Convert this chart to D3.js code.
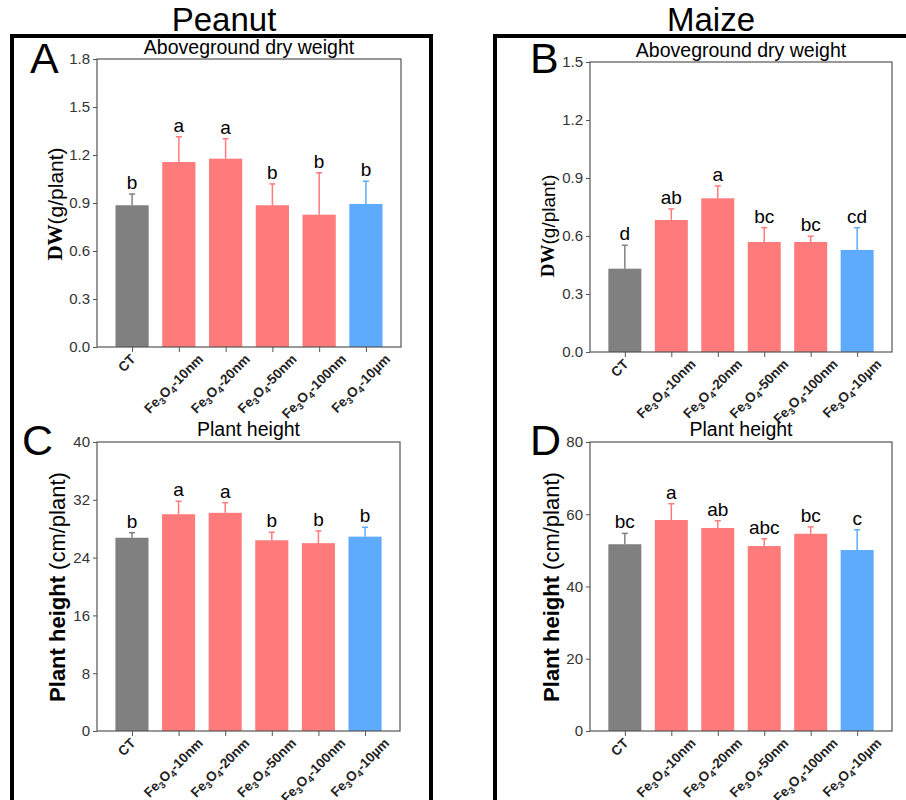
<!DOCTYPE html>
<html>
<head>
<meta charset="utf-8">
<script src="https://cdn.jsdelivr.net/npm/d3@7"></script>
<style>
  body { margin: 0; background: #fff; }
  svg { display: block; font-family: "Liberation Sans", Arial, sans-serif; }
</style>
</head>
<body>
<svg id="chart" width="906" height="800"></svg>
<script>
// treatments, same order in every panel
const categories = ["CT", "Fe3O4-10nm", "Fe3O4-20nm", "Fe3O4-50nm", "Fe3O4-100nm", "Fe3O4-10µm"];
const barColors = ["#808080", "#ff7b7b", "#ff7b7b", "#ff7b7b", "#ff7b7b", "#5eabfd"];

// A - peanut dry weight
const peanutDW = [0.886, 1.156, 1.177, 0.886, 0.827, 0.894];
const peanutDWErr = [0.07, 0.158, 0.125, 0.133, 0.262, 0.142];
const peanutDWLetters = ["b", "a", "a", "b", "b", "b"];

// B - maize dry weight
const maizeDW = [0.431, 0.683, 0.795, 0.569, 0.569, 0.528];
const maizeDWErr = [0.121, 0.057, 0.064, 0.074, 0.030, 0.115];
const maizeDWLetters = ["d", "ab", "a", "bc", "bc", "cd"];

// C - peanut plant height
const peanutHeight = [26.75, 30.0, 30.2, 26.4, 26.0, 26.9];
const peanutHeightErr = [0.7, 1.8, 1.4, 1.1, 1.7, 1.3];
const peanutHeightLetters = ["b", "a", "a", "b", "b", "b"];

// D - maize plant height
const maizeHeight = [51.7, 58.4, 56.2, 51.2, 54.6, 50.1];
const maizeHeightErr = [3.0, 4.5, 2.0, 2.0, 1.9, 5.6];
const maizeHeightLetters = ["bc", "a", "ab", "abc", "bc", "c"];

const svg = d3.select("#chart");

// outer frames
svg.append("path")
  .attr("d", "M12,800 V36 H431 V800")
  .attr("fill", "none").attr("stroke", "#000").attr("stroke-width", 4);
svg.append("path")
  .attr("d", "M495,800 V36 H910")
  .attr("fill", "none").attr("stroke", "#000").attr("stroke-width", 4);

svg.append("text").attr("x", 224).attr("y", 31).attr("text-anchor", "middle")
  .attr("font-size", 33).text("Peanut");
svg.append("text").attr("x", 711).attr("y", 31).attr("text-anchor", "middle")
  .attr("font-size", 33).text("Maize");

const panels = [
  { letter: "A", lx: 30, ly: 73, left: 97, right: 401, top: 59, bottom: 347, max: 1.8, step: 0.3, fmt: ".1f",
    title: "Aboveground dry weight", ty: 54, yl: "dw", ylx: 57, yly: 204, ylSize: 21,
    values: peanutDW, errs: peanutDWErr, letters: peanutDWLetters },
  { letter: "B", lx: 530, ly: 73, left: 590, right: 892, top: 62, bottom: 352, max: 1.5, step: 0.3, fmt: ".1f",
    title: "Aboveground dry weight", ty: 57, yl: "dw", ylx: 550, yly: 226, ylSize: 19,
    values: maizeDW, errs: maizeDWErr, letters: maizeDWLetters },
  { letter: "C", lx: 22, ly: 455, left: 97, right: 400, top: 442, bottom: 731, max: 40, step: 8, fmt: "d",
    title: "Plant height", ty: 436, yl: "ph", ylx: 59, yly: 587, ylSize: 22,
    values: peanutHeight, errs: peanutHeightErr, letters: peanutHeightLetters },
  { letter: "D", lx: 530, ly: 455, left: 590, right: 892, top: 442, bottom: 731, max: 80, step: 20, fmt: "d",
    title: "Plant height", ty: 436, yl: "ph", ylx: 553, yly: 587, ylSize: 22,
    values: maizeHeight, errs: maizeHeightErr, letters: maizeHeightLetters }
];

panels.forEach(p => {
  const g = svg.append("g");
  const x = d3.scaleLinear().domain([0.25, 6.75]).range([p.left, p.right]);
  const y = d3.scaleLinear().domain([0, p.max]).range([p.bottom, p.top]);
  const bw = x(0.71) - x(0);
  const data = categories.map((c, i) => ({ c, i, v: p.values[i], e: p.errs[i], l: p.letters[i], col: barColors[i] }));

  // bars
  g.selectAll("rect.bar").data(data).enter().append("rect")
    .attr("class", "bar")
    .attr("x", d => x(d.i + 1) - bw / 2)
    .attr("width", bw)
    .attr("y", d => y(d.v))
    .attr("height", d => y(0) - y(d.v))
    .attr("fill", d => d.col);

  // upper error bars
  const eb = g.selectAll("g.err").data(data).enter().append("g")
    .attr("stroke", d => d.col).attr("stroke-width", 1.5);
  eb.append("line")
    .attr("x1", d => x(d.i + 1)).attr("x2", d => x(d.i + 1))
    .attr("y1", d => y(d.v)).attr("y2", d => y(d.v + d.e));
  eb.append("line")
    .attr("x1", d => x(d.i + 1) - 3).attr("x2", d => x(d.i + 1) + 3)
    .attr("y1", d => y(d.v + d.e)).attr("y2", d => y(d.v + d.e));

  // significance letters
  g.selectAll("text.sig").data(data).enter().append("text")
    .attr("x", d => x(d.i + 1))
    .attr("y", d => y(d.v + d.e) - 5)
    .attr("text-anchor", "middle").attr("font-size", 19)
    .text(d => d.l);

  // frame
  g.append("rect")
    .attr("x", p.left).attr("y", p.top)
    .attr("width", p.right - p.left).attr("height", p.bottom - p.top)
    .attr("fill", "none").attr("stroke", "#555").attr("stroke-width", 1.2);

  // y axis
  const ya = g.append("g").attr("transform", `translate(${p.left},0)`)
    .call(d3.axisLeft(y).tickValues(d3.range(0, p.max + p.step / 2, p.step))
      .tickFormat(d3.format(p.fmt)).tickSize(4).tickPadding(3));
  ya.select(".domain").remove();
  ya.selectAll("line").attr("stroke", "#555");
  ya.selectAll("text").attr("font-size", 15).attr("fill", "#333")
    .attr("font-family", "Liberation Sans, Arial, sans-serif");

  // x axis ticks
  const xa = g.append("g").attr("transform", `translate(0,${p.bottom})`)
    .call(d3.axisBottom(x).tickValues(d3.range(1, 7)).tickSize(5).tickFormat(""));
  xa.select(".domain").remove();
  xa.selectAll("line").attr("stroke", "#555");

  // rotated category labels with subscripts
  data.forEach(d => {
    const t = g.append("text")
      .attr("font-size", 13.5).attr("font-weight", "bold").attr("fill", "#222")
      .attr("text-anchor", "end");
    if (d.c === "CT") {
      t.text("CT");
    } else {
      const rest = d.c.replace("Fe3O4", "");
      t.append("tspan").text("Fe");
      t.append("tspan").attr("font-size", 9.5).attr("dy", 3).text("3");
      t.append("tspan").attr("dy", -3).text("O");
      t.append("tspan").attr("font-size", 9.5).attr("dy", 3).text("4");
      t.append("tspan").attr("dy", -3).text(rest);
    }
    const L = t.node().getComputedTextLength();
    const ax = x(d.i + 1) - 2 + L * 0.354;
    const ay = p.bottom + 13;
    t.attr("transform", `translate(${ax},${ay}) rotate(-45)`);
  });

  // subtitle
  g.append("text").attr("x", (p.left + p.right) / 2).attr("y", p.ty)
    .attr("text-anchor", "middle").attr("font-size", 19.5).text(p.title);

  // panel letter
  g.append("text").attr("x", p.lx).attr("y", p.ly).attr("font-size", 43).text(p.letter);

  // y label
  const yl = g.append("text")
    .attr("transform", `translate(${p.ylx},${p.yly}) rotate(-90)`)
    .attr("text-anchor", "middle").attr("dominant-baseline", "middle")
    .attr("font-size", p.ylSize);
  if (p.yl === "dw") {
    yl.append("tspan").attr("font-family", "Liberation Serif, Times New Roman, serif")
      .attr("font-weight", "bold").text("DW");
    yl.append("tspan").text("(g/plant)");
  } else {
    yl.append("tspan").attr("font-weight", "bold").text("Plant height");
    yl.append("tspan").text(" (cm/plant)");
  }
});
</script>
</body>
</html>
